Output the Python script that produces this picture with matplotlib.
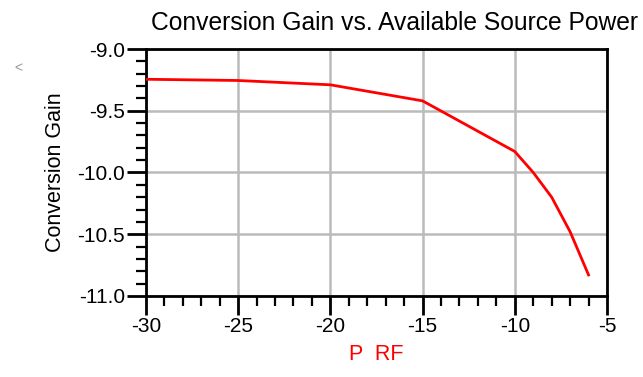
import matplotlib
matplotlib.use('Agg')
import matplotlib.pyplot as plt
from matplotlib.ticker import MultipleLocator

# available source power (dBm) and conversion gain (dB)
p_rf = [-30, -25, -20, -15, -10, -9, -8, -7, -6]
conv_gain = [-9.245, -9.255, -9.29, -9.42, -9.83, -10.0, -10.2, -10.48, -10.83]

plt.rcParams['font.family'] = ['Liberation Sans', 'DejaVu Sans']

fig = plt.figure(figsize=(6.43, 3.77), dpi=100)
ax = fig.add_axes([0.227, 0.215, 0.717, 0.655])

ax.plot(p_rf, conv_gain, color='red', linewidth=2.0, zorder=3)

ax.set_xlim(-30, -5)
ax.set_ylim(-11.0, -9.0)
ax.xaxis.set_major_locator(MultipleLocator(5))
ax.xaxis.set_minor_locator(MultipleLocator(1))
ax.yaxis.set_major_locator(MultipleLocator(0.5))
ax.yaxis.set_minor_locator(MultipleLocator(0.1))
ax.yaxis.set_major_formatter(plt.FormatStrFormatter('%.1f'))
ax.xaxis.set_major_formatter(plt.FormatStrFormatter('%d'))

ax.grid(True, which='major', color='#bbbbbb', linewidth=1.8)
ax.set_axisbelow(True)
for s in ax.spines.values():
    s.set_linewidth(2.0)
    s.set_color('black')
ax.tick_params(which='major', direction='out', length=14, width=2.0,
               labelsize=15, pad=1)
ax.tick_params(which='minor', direction='out', length=7, width=1.6)

ax.set_title('Conversion Gain vs. Available Source Power', fontsize=17.7,
             x=0.54, pad=14)
ax.set_ylabel('Conversion Gain', fontsize=15.5, labelpad=8)
ax.set_xlabel('P  RF', fontsize=15.5, color='red', labelpad=6)

fig.text(0.022, 0.81, '<', color='#999999', fontsize=10)

fig.savefig('out.png', dpi=100)
